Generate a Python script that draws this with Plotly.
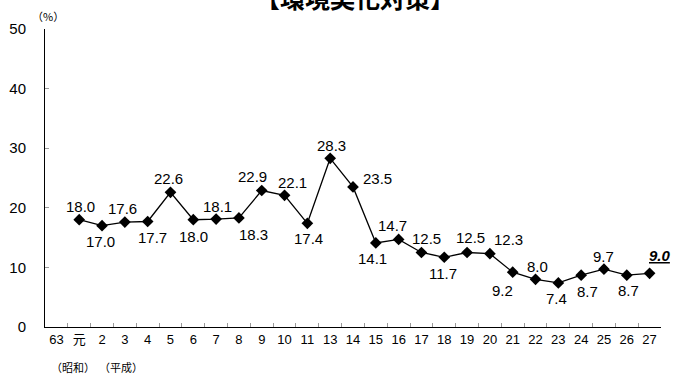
import plotly.graph_objects as go

categories = ["63", "元", "2", "3", "4", "5", "6", "7", "8", "9", "10", "11",
              "13", "14", "15", "16", "17", "18", "19", "20", "21", "22", "23",
              "24", "25", "26", "27"]
values = [None, 18.0, 17.0, 17.6, 17.7, 22.6, 18.0, 18.1, 18.3, 22.9, 22.1, 17.4,
          28.3, 23.5, 14.1, 14.7, 12.5, 11.7, 12.5, 12.3, 9.2, 8.0, 7.4,
          8.7, 9.7, 8.7, 9.0]
title_text = "【環境美化対策】"
y_ticks = [0, 10, 20, 30, 40, 50]

# label offsets (pixels, label centre relative to the marker; +dy = downward)
label_dx = [0, 1, -2, -2, 5, -2, 0, 1, 15, -9, 8, 1, 1, 24, -3, -6, 5, -1, 3, 19,
            -10, 2, -2, 6, 0, 2, 10]
label_dy = [0, -13, 16, -14, 16, -14, 17, -13, 17, -14, -13, 15, -13, -8, 16, -14,
            -14, 16, -15, -14, 18, -13, 16, 16, -13, 15, -18]

FONT = "Liberation Sans, Arial, Noto Sans CJK JP"
CJK = "Noto Sans CJK JP, Liberation Sans"

fig = go.Figure()
fig.add_trace(go.Scatter(
    x=categories, y=values, mode="lines+markers",
    line=dict(color="black", width=1.3),
    marker=dict(symbol="diamond", size=9, color="black"),
    cliponaxis=False, showlegend=False, connectgaps=False, hoverinfo="x+y",
))

annotations = []
for i, v in enumerate(values):
    if v is None:
        continue
    t = "%.1f" % v
    if i == len(values) - 1:
        t = "<b><i><u>%s</u></i></b>" % t
    # category axes take the category index for annotation positions
    annotations.append(dict(
        text=t, xref="x", yref="y", x=i, y=v, xanchor="center", yanchor="middle",
        xshift=label_dx[i], yshift=-label_dy[i], showarrow=False,
        font=dict(family=FONT, size=15, color="black")))

annotations += [
    dict(text=title_text, xref="paper", yref="paper", x=0.503, y=1.04,
         xanchor="center", yanchor="bottom", showarrow=False,
         font=dict(family=CJK, size=25, color="black", weight="bold")),
    dict(text="（%）", xref="paper", yref="paper", x=0.005, y=1.01,
         xanchor="center", yanchor="bottom", showarrow=False,
         font=dict(family=CJK, size=11, color="black")),
    dict(text="（昭和）", xref="x", yref="paper", x=0, y=-0.133,
         xanchor="left", yanchor="middle", xshift=-7, showarrow=False,
         font=dict(family=CJK, size=11, color="black")),
    dict(text="（平成）", xref="x", yref="paper", x=2, y=-0.133,
         xanchor="left", yanchor="middle", xshift=-5, showarrow=False,
         font=dict(family=CJK, size=11, color="black")),
]

fig.update_layout(
    width=675, height=374, autosize=False,
    margin=dict(l=45, r=14, t=29, b=47, autoexpand=False),
    paper_bgcolor="white", plot_bgcolor="white",
    font=dict(family=FONT, color="black"),
    xaxis=dict(type="category", categoryorder="array", categoryarray=categories,
               showline=True, linecolor="black", linewidth=1,
               ticks="inside", ticklen=4, tickcolor="#999999", tickson="boundaries",
               showgrid=False, zeroline=False, ticklabelstandoff=0, tickangle=0,
               automargin=False,
               tickfont=dict(family=FONT, size=13, color="black"),
               range=[-0.5, len(categories) - 0.5]),
    yaxis=dict(range=[0, 50], tickvals=y_ticks, showline=True, linecolor="black",
               linewidth=1, ticks="inside", ticklen=4, tickcolor="#999999",
               showgrid=False, zeroline=False, ticklabelstandoff=15, automargin=False,
               tickfont=dict(family=FONT, size=15, color="black")),
    annotations=annotations,
)

fig.write_html("out.html", config={"displayModeBar": False},
               post_script="document.body.style.margin='0';document.body.style.overflow='hidden';")
